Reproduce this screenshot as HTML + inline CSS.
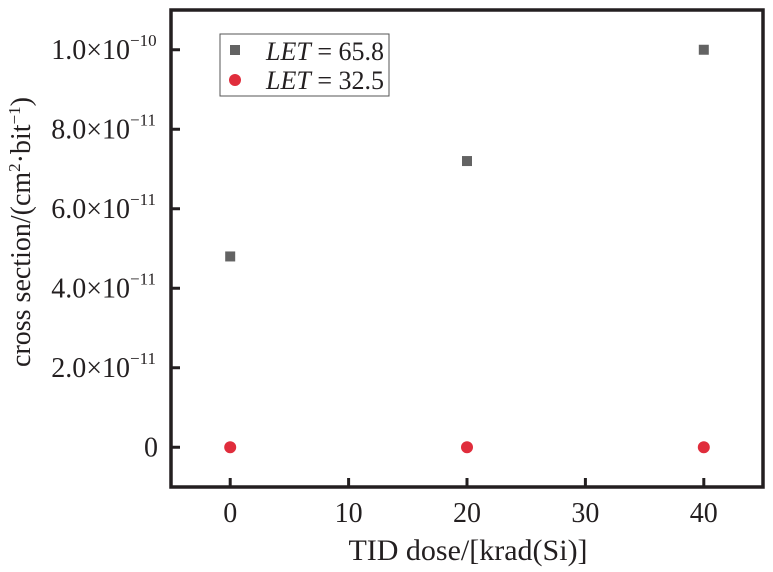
<!DOCTYPE html>
<html><head><meta charset="utf-8"><style>
body{margin:0;background:#fff}
svg{display:block;font-family:"Liberation Serif",serif}
</style></head><body>
<svg width="773" height="572">
<g id="plot"></g>
</svg>
<script>
const xTicks=[0,10,20,30,40];
const yTicks=[0,2e-11,4e-11,6e-11,8e-11,1e-10];
const yTickLabels=["0","2.0×10","4.0×10","6.0×10","8.0×10","1.0×10"];
const yTickExps=["","−11","−11","−11","−11","−10"];
const doses=[0,20,40];
const let658=[4.8e-11,7.2e-11,1.0e-10];
const let325=[0,0,0];
const L=171,R=763,T=10,B=487;
const xMin=-5,xMax=45,yMin=-1e-11,yMax=1.1e-10;
const X=v=>L+(v-xMin)/(xMax-xMin)*(R-L);
const Y=v=>B-(v-yMin)/(yMax-yMin)*(B-T);
const NS="http://www.w3.org/2000/svg";
const g=document.getElementById('plot');
function mk(t,a,txt){const e=document.createElementNS(NS,t);for(const k in a)e.setAttribute(k,a[k]);if(txt!==undefined)e.textContent=txt;g.appendChild(e);return e;}
xTicks.forEach((v,i)=>{
 const t=mk('line',{x1:X(v),x2:X(v),y1:B,y2:B-9,stroke:'#231f20','stroke-width':3});
 
 
 const l=mk('text',{x:X(v),y:B+35,'text-anchor':'middle','font-size':28,fill:'#231f20'},String(v));
 
 
});
yTicks.forEach((v,i)=>{
 const t=mk('line',{x1:L,x2:L+9,y1:Y(v),y2:Y(v),stroke:'#231f20','stroke-width':3});
 
 
 const l=mk('text',{x:yTickExps[i]?130:158,y:Y(v)+9,'text-anchor':'end','font-size':28,fill:'#231f20'},yTickLabels[i]);
 
 
 if(yTickExps[i]){
  const s=mk('text',{x:130,y:Y(v)-4,'font-size':17,fill:'#231f20'},yTickExps[i]);
  
  
 }
});
const fr=mk('rect',{x:L,y:T,width:R-L,height:B-T,fill:'none',stroke:'#231f20','stroke-width':3.5});


doses.forEach((d,i)=>{
 const s=mk('rect',{x:X(d)-5,y:Y(let658[i])-5,width:10,height:10,fill:'#636363'});
 
 
 const c=mk('circle',{cx:X(d),cy:Y(let325[i]),r:6,fill:'#e02d3c'});
 
 
});
</script>
<svg style="position:absolute;left:0;top:0" width="773" height="572">
<g>
<rect x="220" y="34" width="169" height="62" fill="#fff" stroke="#555" stroke-width="1"/>
<rect x="230" y="45" width="10" height="10" fill="#636363"/>
<circle cx="235" cy="80" r="6" fill="#e02d3c"/>
<text x="266" y="60" font-size="26" fill="#231f20"><tspan font-style="italic">LET</tspan> = 65.8</text>
<text x="266" y="89" font-size="26" fill="#231f20"><tspan font-style="italic">LET</tspan> = 32.5</text>
</g>
<text x="468" y="560" text-anchor="middle" font-size="30" fill="#231f20">TID dose/[krad(Si)]</text>
<text transform="translate(30,232) rotate(-90)" text-anchor="middle" font-size="28" fill="#231f20">cross section/(cm<tspan font-size="17" dy="-10">2</tspan><tspan dy="10">·bit</tspan><tspan font-size="17" dy="-10">−1</tspan><tspan dy="10">)</tspan></text>
</svg>
</body></html>
